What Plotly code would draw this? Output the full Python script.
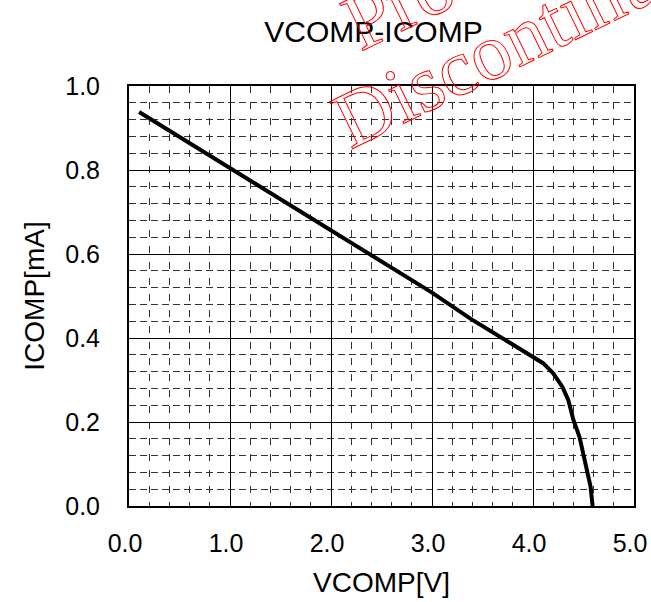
import plotly.graph_objects as go

# Data
vcomp = [0.10, 1.00, 2.00, 3.00, 3.38, 3.99, 4.10, 4.20, 4.29, 4.35, 4.40, 4.46, 4.50, 4.54, 4.57, 4.59]
icomp = [0.938, 0.804, 0.657, 0.508, 0.446, 0.356, 0.340, 0.316, 0.284, 0.252, 0.205, 0.165, 0.125, 0.086, 0.046, 0.0]

x_ticks = [0, 1, 2, 3, 4, 5]
x_labels = ["0.0", "1.0", "2.0", "3.0", "4.0", "5.0"]
y_ticks = [0, 0.2, 0.4, 0.6, 0.8, 1.0]
y_labels = ["0.0", "0.2", "0.4", "0.6", "0.8", "1.0"]

title_text = "VCOMP-ICOMP"
x_title = "VCOMP[V]"
y_title = "ICOMP[mA]"
wm_top = "Product"
wm_bottom = "Discontinued"

FONT = "Liberation Sans, Arial, sans-serif"

W, H = 651, 602
# plot area in pixels
PL, PR, PT, PB = 129, 634, 86, 506
L, T, R, B = PL, PT, W - PR, H - PB

fig = go.Figure()
fig.add_trace(go.Scatter(
    x=vcomp, y=icomp, mode="lines",
    line=dict(color="black", width=4),
    showlegend=False, hoverinfo="skip",
))

fig.update_layout(
    width=W, height=H,
    margin=dict(l=L, r=R, t=T, b=B, autoexpand=False),
    paper_bgcolor="white", plot_bgcolor="white",
    font=dict(family=FONT, color="black"),
    title=dict(text=title_text, x=373.5 / W, xanchor="center",
               y=1 - 31.5 / H, yanchor="middle",
               font=dict(family=FONT, size=30, color="black")),
    xaxis=dict(
        range=[0, 5], tickvals=x_ticks, ticktext=x_labels,
        tickfont=dict(family=FONT, size=25, color="black"),
        ticks="", ticklabelstandoff=14, ticklabelshift=-4,
        ticklabeloverflow="allow", automargin=False,
        showgrid=True, gridcolor="black", gridwidth=1,
        minor=dict(dtick=0.2, showgrid=True, gridcolor="#333333",
                   gridwidth=1, griddash="7px,9px"),
        showline=True, linecolor="black", linewidth=2, mirror=True,
        zeroline=False,
        title=dict(text=x_title, font=dict(family=FONT, size=28, color="black"),
                   standoff=16),
    ),
    yaxis=dict(
        range=[0, 1], tickvals=y_ticks, ticktext=y_labels,
        tickfont=dict(family=FONT, size=25, color="black"),
        ticks="", ticklabelstandoff=22,
        ticklabeloverflow="allow", automargin=False,
        showgrid=True, gridcolor="black", gridwidth=1,
        minor=dict(dtick=0.04, showgrid=True, gridcolor="#333333",
                   gridwidth=1, griddash="7px,4px"),
        showline=True, linecolor="black", linewidth=2, mirror=True,
        zeroline=False,
        title=dict(text=y_title, font=dict(family=FONT, size=28, color="black"),
                   standoff=12),
    ),
)

def screen_to_paper(sx, sy):
    return (sx - PL) / (PR - PL), (PB - sy) / (PB - PT)

for txt, (cx, cy) in [(wm_top, (460, -27)), (wm_bottom, (530, 32))]:
    ax, ay = screen_to_paper(cx, cy)
    fig.add_annotation(
        text=txt, xref="paper", yref="paper", x=ax, y=ay,
        xanchor="center", yanchor="middle", showarrow=False,
        textangle=-26,
        font=dict(family="Liberation Serif, Times New Roman, serif", size=80, color="red"),
    )

post = """
document.documentElement.style.margin = '0';
document.documentElement.style.overflow = 'hidden';
document.body.style.margin = '0';
document.body.style.overflow = 'hidden';
var gd = document.getElementById('{plot_id}');
gd.querySelectorAll('.annotation-text').forEach(function(t){
  t.style.fill = 'none';
  t.style.stroke = 'red';
  t.style.strokeWidth = '1px';
});
"""

fig.write_html("out.html", post_script=post,
               config={"displayModeBar": False, "staticPlot": True})
